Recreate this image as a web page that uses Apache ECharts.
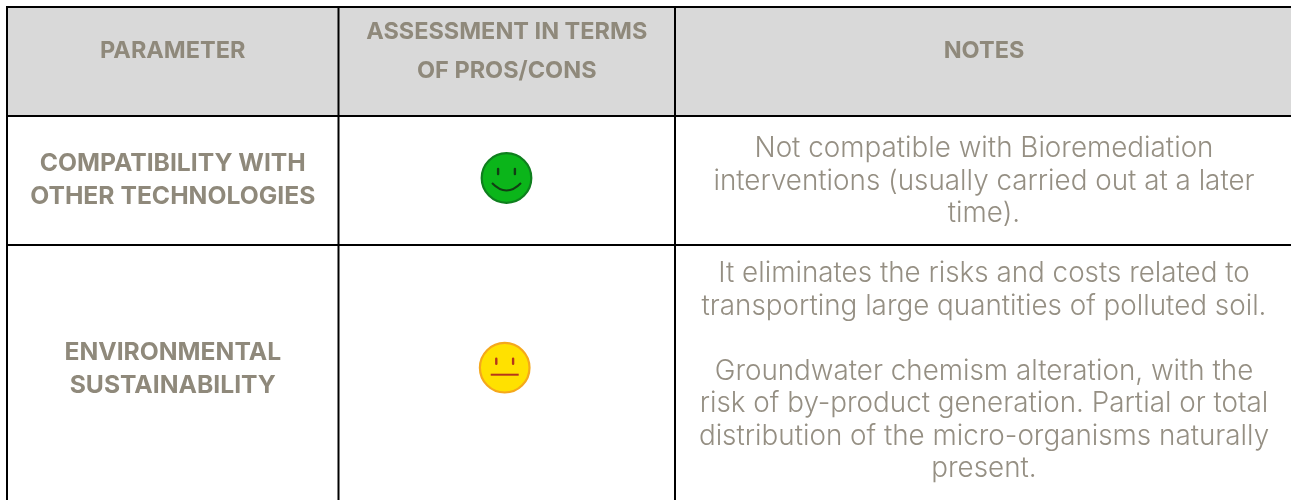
<!DOCTYPE html>
<html>
<head>
<meta charset="utf-8">
<style>
  html, body { margin: 0; padding: 0; background: #fff; }
  #main { width: 1291px; height: 500px; }
</style>
<script src="https://cdn.jsdelivr.net/npm/echarts@6/dist/echarts.min.js"></script>
</head>
<body>
<div id="main"></div>
<script>
// table grid
const columnEdges = [7, 338.5, 675, 1291]
const rowEdges = [7, 116, 245, 500]

const headers = ['PARAMETER', 'ASSESSMENT IN TERMS\nOF PROS/CONS', 'NOTES']
const parameters = ['COMPATIBILITY WITH\nOTHER TECHNOLOGIES', 'ENVIRONMENTAL\nSUSTAINABILITY']
const notes = [
  'Not compatible with Bioremediation\ninterventions (usually carried out at a later\ntime).',
  'It eliminates the risks and costs related to\ntransporting large quantities of polluted soil.\n\nGroundwater chemism alteration, with the\nrisk of by-product generation. Partial or total\ndistribution of the micro-organisms naturally\npresent.'
]
// 1 = smile, 0 = neutral
const assessments = [1, 0]
const facePoints = [[506.5, 178], [504.7, 367.7]]

const textColor = '#8f897b'
const noteColor = '#958f83'
const fontName = 'Inter'

const myChart = echarts.init(document.getElementById('main'))

function cellText(api, x, y, text, size, weight, color, lineHeight) {
  const p = api.coord([x, y])
  return {
    type: 'text',
    style: {
      text: text,
      x: p[0],
      y: p[1],
      align: 'center',
      verticalAlign: 'middle',
      fontFamily: fontName,
      fontSize: size,
      fontWeight: weight,
      lineHeight: lineHeight,
      fill: color
    }
  }
}

function midX(i) { return (columnEdges[i] + columnEdges[i + 1]) / 2 }
function midY(i) { return (rowEdges[i] + rowEdges[i + 1]) / 2 }

const option = {
  animation: false,
  backgroundColor: '#fff',
  grid: { left: 0, right: 0, top: 0, bottom: 0 },
  xAxis: { type: 'value', min: 0, max: 1291, show: false },
  yAxis: { type: 'value', min: 0, max: 500, inverse: true, show: false },
  series: [
    {
      // header background and rules
      type: 'custom',
      coordinateSystem: 'cartesian2d',
      silent: true,
      data: [0],
      renderItem: function (params, api) {
        const children = []
        const a = api.coord([columnEdges[0], rowEdges[0]])
        const b = api.coord([columnEdges[3], rowEdges[1]])
        children.push({ type: 'rect', shape: { x: a[0], y: a[1], width: b[0] - a[0], height: b[1] - a[1] }, style: { fill: '#d9d9d9' } })
        for (let i = 0; i < 3; i++) {
          const p = api.coord([columnEdges[i], rowEdges[0]])
          const q = api.coord([columnEdges[i], rowEdges[3]])
          children.push({ type: 'line', shape: { x1: p[0], y1: p[1] - 1, x2: q[0], y2: q[1] }, style: { stroke: '#000', lineWidth: 2 } })
        }
        for (let i = 0; i < 3; i++) {
          const p = api.coord([columnEdges[0], rowEdges[i]])
          const q = api.coord([columnEdges[3], rowEdges[i]])
          children.push({ type: 'line', shape: { x1: p[0] - 1, y1: p[1], x2: q[0], y2: q[1] }, style: { stroke: '#000', lineWidth: 2 } })
        }
        return { type: 'group', children: children }
      }
    },
    {
      // all cell texts
      type: 'custom',
      coordinateSystem: 'cartesian2d',
      silent: true,
      data: [0],
      z: 3,
      renderItem: function (params, api) {
        const children = []
        headers.forEach(function (h, i) {
          children.push(cellText(api, midX(i) + (i === 2 ? 1 : 0), midY(0) - 10.5, h, 23.5, 'bold', textColor, 39))
        })
        parameters.forEach(function (t, i) {
          children.push(cellText(api, midX(0), midY(i + 1) - (i === 1 ? 3.5 : 0), t, 24.7, 'bold', textColor, 33))
        })
        notes.forEach(function (t, i) {
          children.push(cellText(api, midX(2) + 1, midY(i + 1) + (i === 0 ? 1 : -1), t, 27.8, 300, noteColor, 32.5))
        })
        return { type: 'group', children: children }
      }
    },
    {
      // smiley marks
      type: 'custom',
      coordinateSystem: 'cartesian2d',
      silent: true,
      data: facePoints.map(function (p, i) { return [p[0], p[1], assessments[i]] }),
      z: 4,
      renderItem: function (params, api) {
        const c = api.coord([api.value(0), api.value(1)])
        const happy = api.value(2) === 1
        const ink = happy ? '#123d14' : '#b5361a'
        const eye = function (dx) {
          return { type: 'line', shape: { x1: c[0] + dx, y1: c[1] - 9, x2: c[0] + dx, y2: c[1] - 4 }, style: { stroke: ink, lineWidth: 2.4, lineCap: 'round' } }
        }
        const mouth = happy
          ? { type: 'path', shape: { pathData: 'M' + (c[0] - 14.5) + ' ' + (c[1] + 5) + 'Q' + c[0] + ' ' + (c[1] + 20) + ' ' + (c[0] + 14.5) + ' ' + (c[1] + 5) }, style: { stroke: ink, fill: 'none', lineWidth: 2 } }
          : { type: 'line', shape: { x1: c[0] - 14, y1: c[1] + 7, x2: c[0] + 14, y2: c[1] + 7 }, style: { stroke: ink, lineWidth: 2 } }
        return {
          type: 'group',
          children: [
            { type: 'circle', shape: { cx: c[0], cy: c[1], r: 24.8 }, style: { fill: happy ? '#0bb51a' : '#ffe100', stroke: happy ? '#0f7f1e' : '#f5a81c', lineWidth: 2.2 } },
            eye(-8.4),
            eye(8.4),
            mouth
          ]
        }
      }
    }
  ]
}
myChart.setOption(option)
</script>
</body>
</html>
